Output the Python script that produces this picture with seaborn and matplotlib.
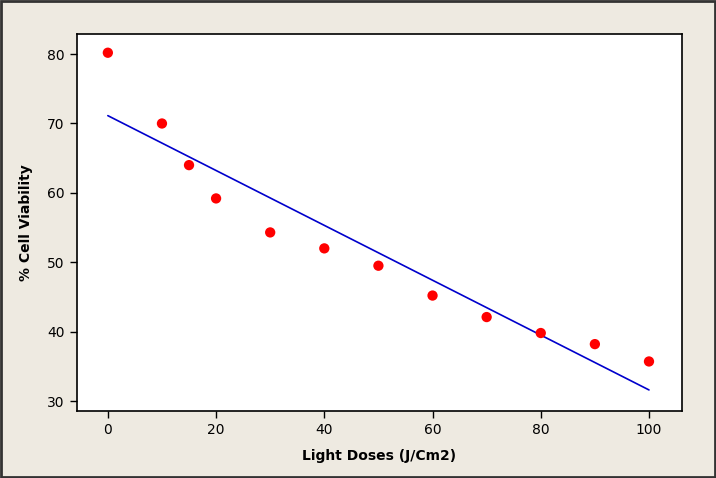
import matplotlib
matplotlib.use("Agg")
import matplotlib.pyplot as plt
import seaborn as sns
import pandas as pd
from matplotlib.patches import Rectangle

dose = [0, 10, 15, 20, 30, 40, 50, 60, 70, 80, 90, 100]
viability = [80.2, 70.0, 64.0, 59.2, 54.3, 52.0, 49.5, 45.2, 42.1, 39.8, 38.2, 35.7]
x_ticks = [0, 20, 40, 60, 80, 100]
y_ticks = [30, 40, 50, 60, 70, 80]

df = pd.DataFrame({"dose": dose, "viability": viability})

sns.set_style("white")
plt.rcParams['font.family'] = ['DejaVu Sans']
plt.rcParams['text.color'] = 'black'
plt.rcParams['axes.labelcolor'] = 'black'
plt.rcParams['xtick.color'] = 'black'
plt.rcParams['ytick.color'] = 'black'

fig = plt.figure(figsize=(7.16, 4.78), dpi=100)
fig.patch.set_facecolor("#EEEAE1")
ax = fig.add_axes([77/716, 1-411/478, (682-77)/716, (411-34)/478])
ax.set_facecolor("white")

sns.regplot(data=df, x="dose", y="viability", ci=None, ax=ax,
            scatter_kws=dict(color="#FF0000", s=55, edgecolor="none", alpha=1, zorder=3),
            line_kws=dict(color="#0000CC", lw=1.2, zorder=2))

ax.set_xlim(-5.7, 106.1)
ax.set_ylim(28.56, 82.9)
ax.set_xticks(x_ticks)
ax.set_yticks(y_ticks)
ax.tick_params(direction="out", length=5, width=1, colors="black", labelsize=10,
               bottom=True, left=True, pad=4)
for s in ax.spines.values():
    s.set_color("black")
    s.set_linewidth(1.2)
ax.set_xlabel("Light Doses (J/Cm2)", fontsize=10, fontweight="bold", labelpad=8, color="black")
ax.set_ylabel("% Cell Viability", fontsize=10, fontweight="bold", labelpad=10, color="black")

fig.patches.append(Rectangle((0.001, 0.002), 0.997, 0.996, transform=fig.transFigure,
                             fill=False, edgecolor="#333333", lw=2))

fig.savefig("out.png", dpi=100, facecolor=fig.get_facecolor())
